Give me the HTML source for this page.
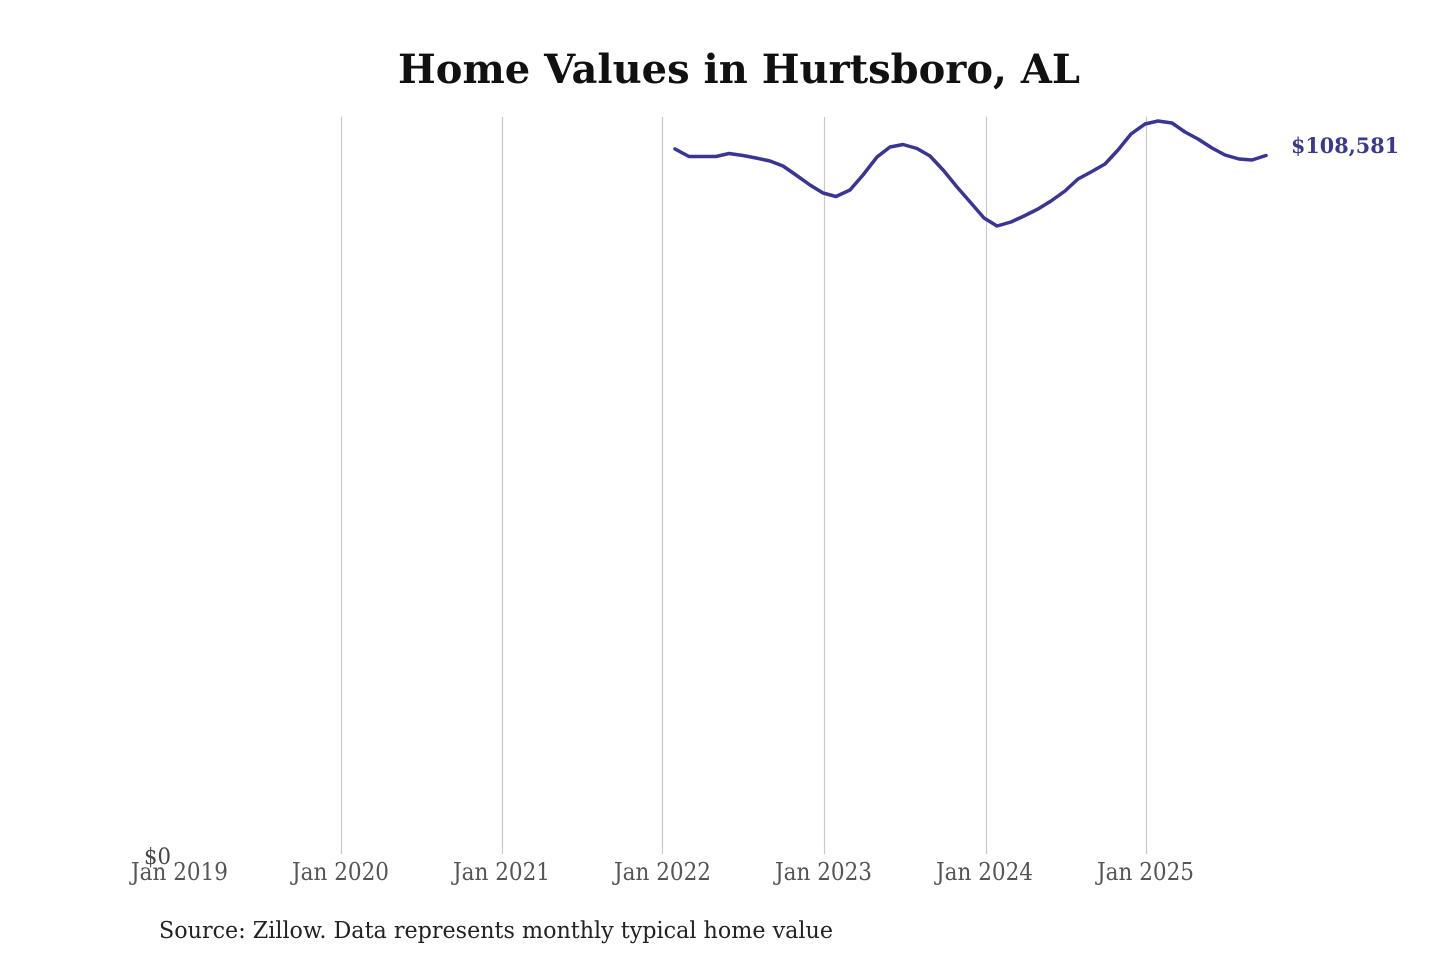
<!DOCTYPE html>
<html>
<head>
<meta charset="utf-8">
<style>
  html, body { margin: 0; padding: 0; background: #ffffff; }
  svg { display: block; }
  text { font-family: "DejaVu Serif", "Liberation Serif", serif; }
</style>
</head>
<body>
<svg width="1440" height="960" viewBox="0 0 1440 960" xmlns="http://www.w3.org/2000/svg">
  <rect width="1440" height="960" fill="#ffffff"/>

  <!-- Title -->
  <text x="398" y="83" font-size="40" font-weight="bold" fill="#111111" textLength="682" lengthAdjust="spacingAndGlyphs">Home Values in Hurtsboro, AL</text>

  <!-- Gridlines -->
  <g stroke="#c8c8c8" stroke-width="1.2">
    <line x1="341.5" y1="117" x2="341.5" y2="854"/>
    <line x1="502.5" y1="117" x2="502.5" y2="854"/>
    <line x1="662.5" y1="117" x2="662.5" y2="854"/>
    <line x1="824.5" y1="117" x2="824.5" y2="854"/>
    <line x1="986.5" y1="117" x2="986.5" y2="854"/>
    <line x1="1146.5" y1="117" x2="1146.5" y2="854"/>
  </g>

  <!-- Y axis label -->
  <text x="144" y="864" font-size="22" fill="#444444" textLength="27" lengthAdjust="spacingAndGlyphs">$0</text>

  <!-- X tick labels -->
  <g font-size="24" fill="#555555">
    <text x="131" y="880" textLength="97" lengthAdjust="spacingAndGlyphs">Jan 2019</text>
    <text x="292" y="880" textLength="97" lengthAdjust="spacingAndGlyphs">Jan 2020</text>
    <text x="453" y="880" textLength="97" lengthAdjust="spacingAndGlyphs">Jan 2021</text>
    <text x="614" y="880" textLength="97" lengthAdjust="spacingAndGlyphs">Jan 2022</text>
    <text x="775" y="880" textLength="97" lengthAdjust="spacingAndGlyphs">Jan 2023</text>
    <text x="936" y="880" textLength="97" lengthAdjust="spacingAndGlyphs">Jan 2024</text>
    <text x="1097" y="880" textLength="97" lengthAdjust="spacingAndGlyphs">Jan 2025</text>
  </g>

  <!-- Series -->
  <polyline fill="none" stroke="#3a3595" stroke-width="3.5" stroke-linejoin="round" stroke-linecap="round"
    points="675,149 689,156.5 702,156.5 716,156.5 729,153.5 743,155.5 756,158 770,161 783,166 796,175 810,185 823,193 836,196.5 850,190 863,175 877,157 890,147 903,144.5 917,148.5 930,156 944,171 957,187 971,203 984,218 997,226 1011,222 1024,216 1038,209 1051,201 1065,191 1078,179 1091,172 1105,164 1118,150 1131,134 1145,124 1158,121 1172,123 1185,132 1198,139 1212,148 1225,155 1239,159 1252,160 1266,155.5"/>

  <!-- End label -->
  <text x="1291" y="153" font-size="21" font-weight="bold" fill="#3b3890" textLength="108" lengthAdjust="spacingAndGlyphs">$108,581</text>

  <!-- Source -->
  <text x="159" y="938" font-size="23" fill="#222222" textLength="674" lengthAdjust="spacingAndGlyphs">Source: Zillow. Data represents monthly typical home value</text>
</svg>
</body>
</html>
